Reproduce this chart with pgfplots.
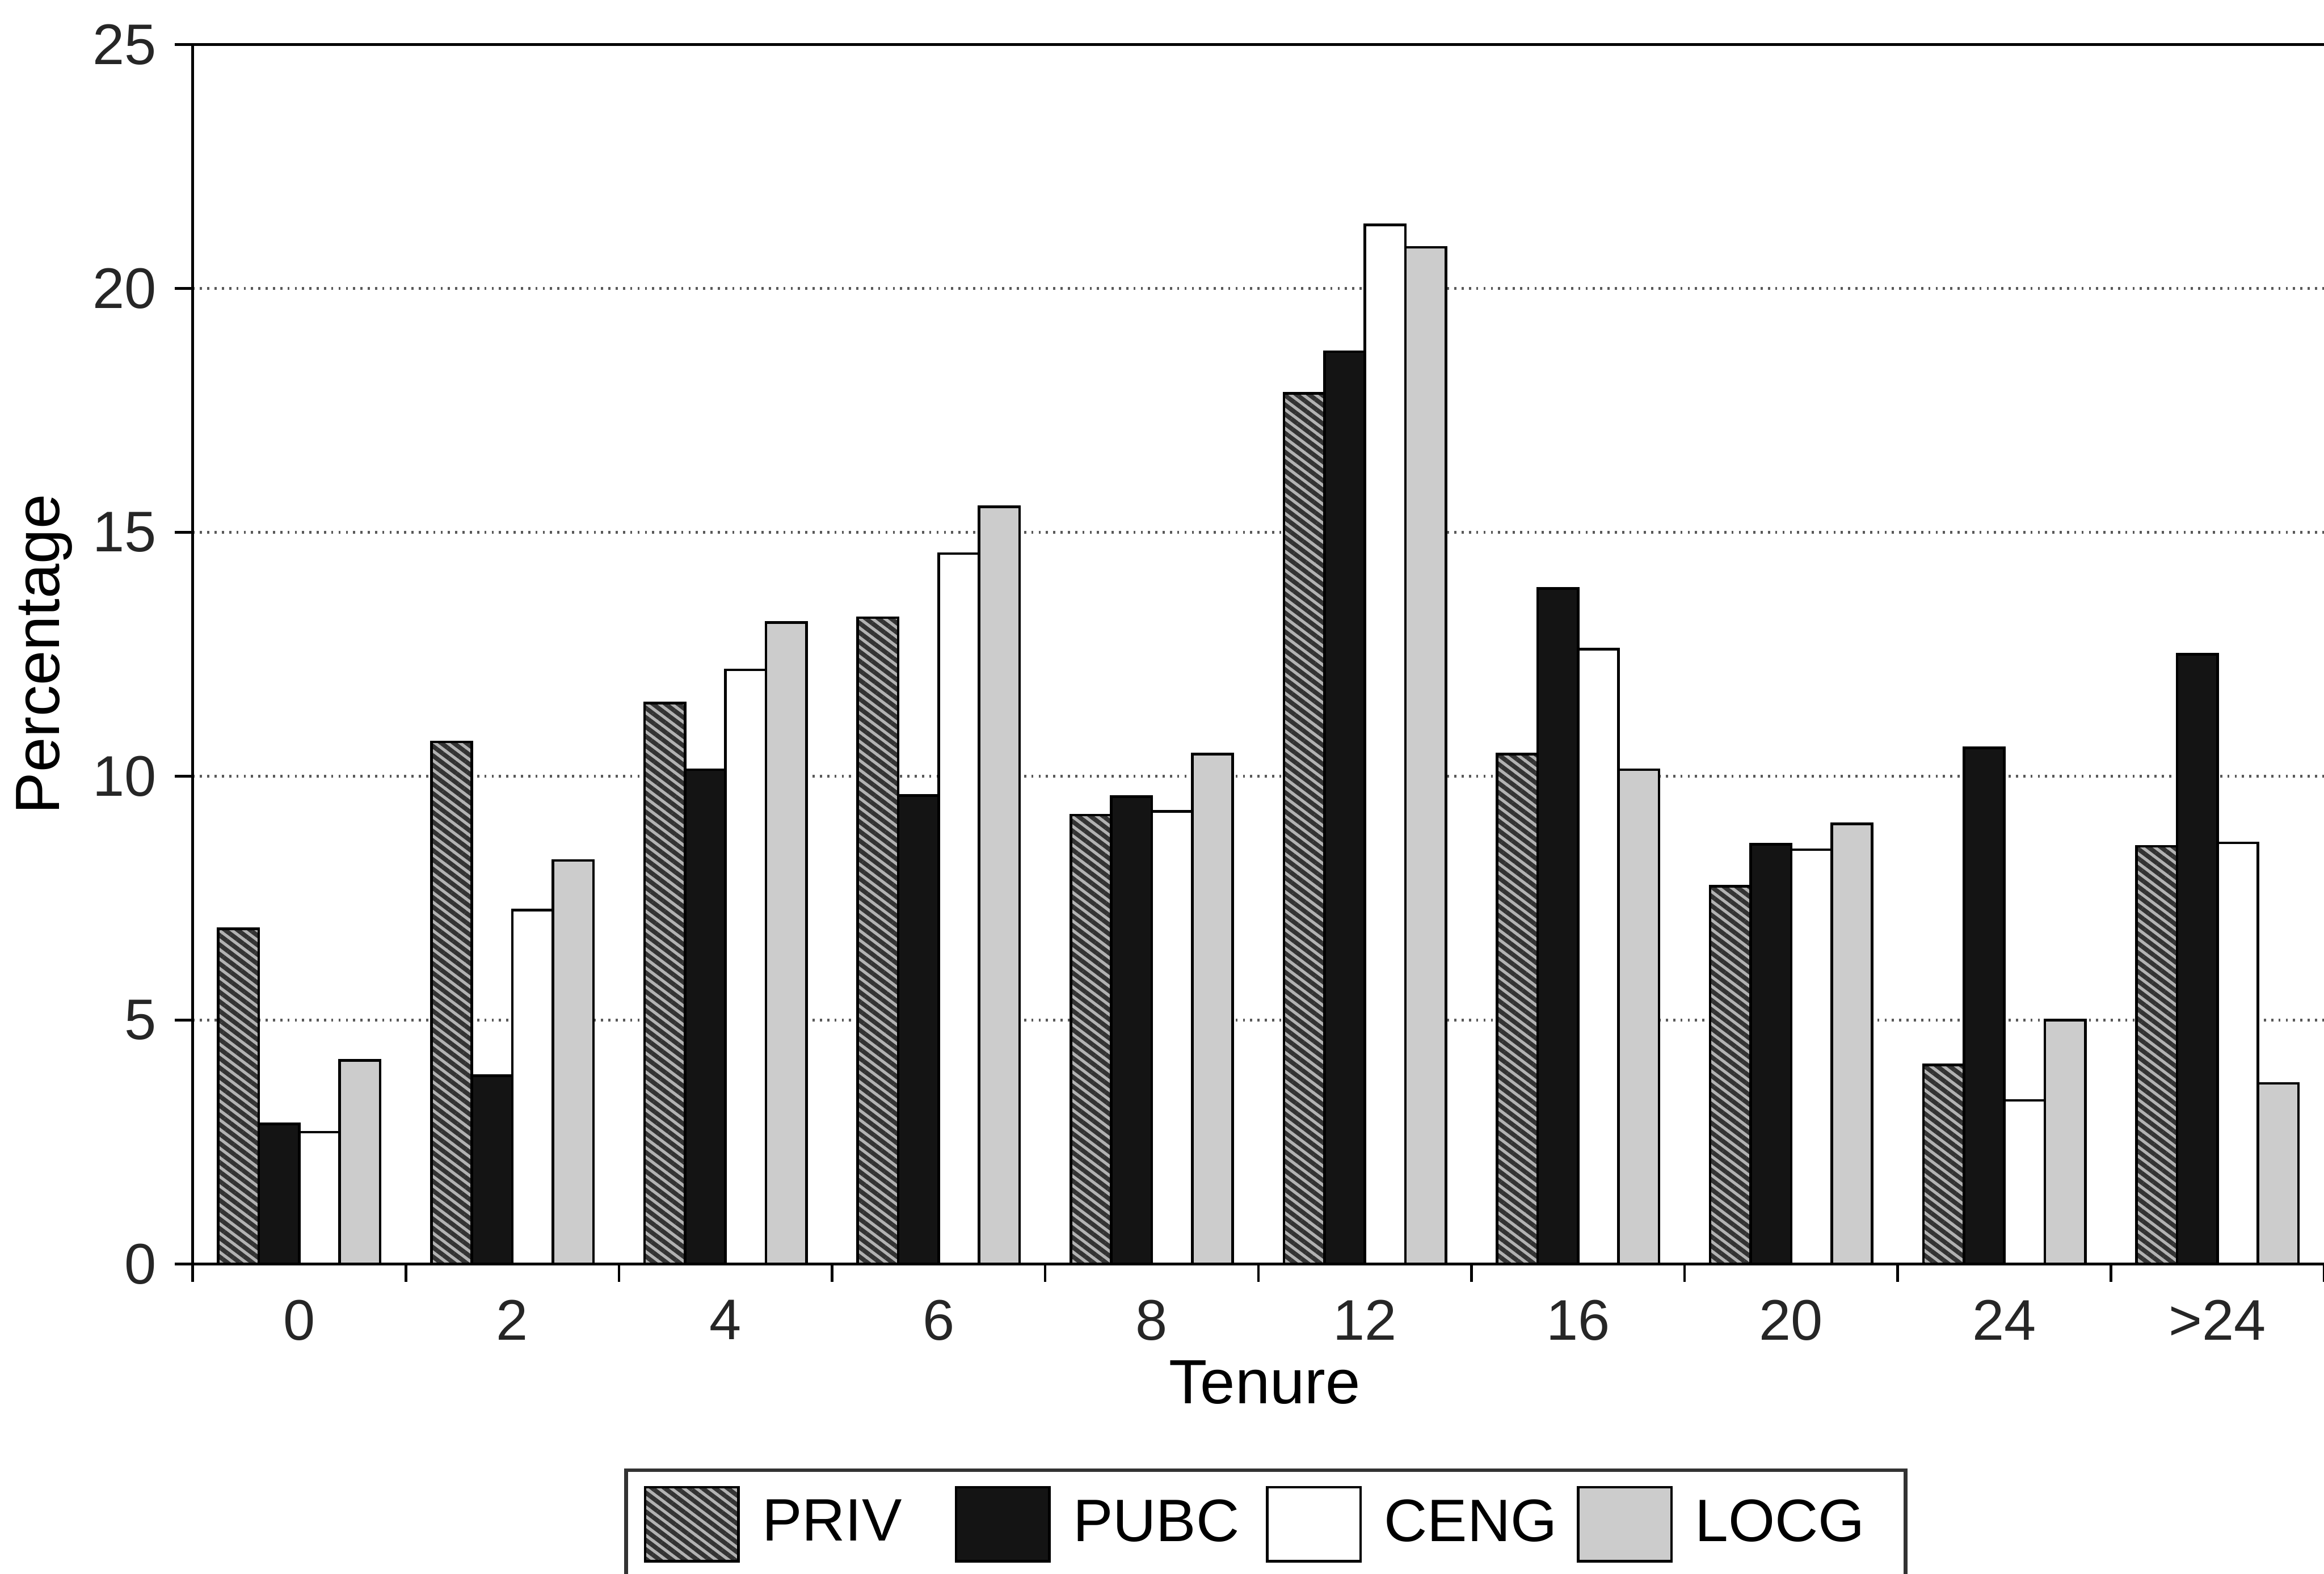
\documentclass[border=0pt]{standalone}
\usepackage{pgfplots}
\pgfplotsset{compat=1.18}
\usepackage{pgfplotstable}
\usepackage{fontspec}
\setmainfont{Liberation Sans}
\usetikzlibrary{patterns.meta}

\pgfplotstableread{
x PRIV PUBC CENG LOCG
0 6.87 2.87 2.70 4.17
1 10.70 3.86 7.25 8.27
2 11.50 10.13 12.18 13.15
3 13.25 9.60 14.56 15.52
4 9.20 9.58 9.28 10.45
5 17.85 18.70 21.30 20.84
6 10.45 13.85 12.60 10.13
7 7.74 8.60 8.49 9.02
8 4.08 10.58 3.35 5.00
9 8.56 12.50 8.63 3.70
}\data

\begin{document}
\begin{tikzpicture}
\useasboundingbox (-1.30,-2.09) rectangle (14.38,8.53);
\begin{axis}[
  at={(0,0)}, anchor=south west, scale only axis,
  width=14.38cm, height=8.23cm,
  xmin=-0.5, xmax=9.5, ymin=0, ymax=25,
  axis x line*=bottom, axis y line*=left,
  axis line style={black, line width=0.6pt},
  ytick={0,5,10,15,20,25},
  xtick={0,1,2,3,4,5,6,7,8,9},
  xticklabels={0,2,4,6,8,12,16,20,24,>24},
  minor xtick={-0.5,0.5,1.5,2.5,3.5,4.5,5.5,6.5,7.5,8.5,9.5},
  tick align=outside,
  major tick length=0.12cm, minor tick length=0.12cm,
  major x tick style={draw=none},
  minor x tick style={draw=black, line width=0.5pt},
  major y tick style={draw=black, line width=0.5pt},
  ymajorgrids,
  major grid style={densely dotted, black!65, line width=0.5pt},
  /pgf/number format/assume math mode=true,
  tick label style={font=\fontsize{11}{13}\selectfont, black!85},
  xlabel={Tenure}, ylabel={Percentage},
  label style={font=\fontsize{12}{14}\selectfont},
  xlabel style={at={(axis description cs:0.503,-0.097)}, anchor=center},
  ylabel style={at={(axis description cs:-0.0695,0.5)}, anchor=center},
  legend columns=4,
  legend image code/.code={\draw[#1] (0cm,-0.25cm) rectangle (0.63cm,0.25cm);},
  legend style={at={(axis description cs:0.5035,-0.1677)}, anchor=north,
    draw=black!80, line width=0.7pt,
    font=\fontsize{11.5}{13}\selectfont,
    inner xsep=0.12cm, inner ysep=3pt,
    nodes={text width=1.23cm, align=left},
    /tikz/every even column/.append style={column sep=0cm},
    /tikz/every odd column/.append style={column sep=0.08cm}},
  after end axis/.code={\draw[black, line width=0.6pt] (rel axis cs:0,1) -- (rel axis cs:1,1);},
]
\addplot[ybar, bar width=0.19, bar shift=-0.285, draw=black, line width=0.5pt,
  preaction={fill=black!30},
  pattern={Lines[angle=-37,distance=1.45pt,line width=0.85pt]}, pattern color=black!80]
  table[x=x,y=PRIV]{\data};
\addplot[ybar, bar width=0.19, bar shift=-0.095, draw=black, line width=0.5pt, fill=black!92]
  table[x=x,y=PUBC]{\data};
\addplot[ybar, bar width=0.19, bar shift=0.095, draw=black, line width=0.5pt, fill=white]
  table[x=x,y=CENG]{\data};
\addplot[ybar, bar width=0.19, bar shift=0.285, draw=black, line width=0.5pt, fill=black!20]
  table[x=x,y=LOCG]{\data};
\legend{PRIV,PUBC,CENG,LOCG}
\end{axis}
\end{tikzpicture}
\end{document}
